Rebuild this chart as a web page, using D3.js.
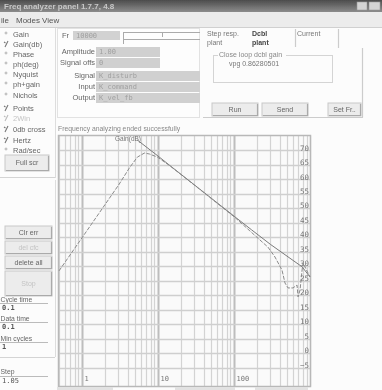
<!DOCTYPE html>
<html><head><meta charset="utf-8">
<script src="https://cdn.jsdelivr.net/npm/d3@7"></script>
<style>body{margin:0;background:#fff;overflow:hidden}svg{display:block}</style>
</head><body>
<svg id="c" width="382" height="390"></svg>
<script>
// ---- data ----
const freqA = [0.5, 0.92, 1.69, 3.1, 4.2, 5.36, 6.63, 7.7, 9.86, 14.2, 35.3, 102.6, 162, 219, 280, 346, 428, 469, 514, 598, 675, 697, 740, 787, 811, 1000];
const gainA = [28.4, 38.4, 48.4, 58.4, 63.9, 67.7, 69.1, 68.8, 67.7, 64.8, 56.6, 46.9, 42.2, 39.1, 36.6, 33.2, 28.7, 24.2, 22.5, 22.5, 23.5, 19.4, 21.8, 28.7, 31.1, 26.3];
const freqB = [5.36, 10, 14.2, 35.3, 102.6, 170, 300, 787, 1000];
const gainB = [73.6, 68.1, 64.9, 56.7, 47.1, 42.6, 37.6, 29.8, 26.3];
const yTickLabels = [-5, 0, 5, 10, 15, 20, 25, 30, 35, 40, 45, 50, 55, 60, 65, 70];
const xTickLabels = [1, 10, 100];
const xMajor = [1, 10, 100];
const curveLabel = "Gain(dB)";
const statusText = "Frequency analyzing ended successfully";
const leftOptions = ["Gain", "Gain(db)", "Phase", "ph(deg)", "Nyquist", "ph+gain", "Nichols", "Points", "2Win", "0db cross", "Hertz", "Rad/sec"];
const leftChecked = ["Gain(db)", "Points", "2Win", "0db cross", "Hertz"];
const leftDisabled = ["2Win"];
const fieldLabels = ["Amplitude", "Signal offs", "Signal", "Input", "Output"];
const fieldValues = ["1.00", "0", "K_disturb", "K_command", "K_vel_fb"];
const tabNames = [["Step resp.", "plant"], ["Dcbl", "plant"], ["Current", ""]];
const lowerFields = [["Cycle time", "0.1"], ["Data time", "0.1"], ["Min cycles", "1"]];

// ---- drawing ----
const root = d3.select("#c");
const W = 382, H = 390;
const SANS = "'Liberation Sans', Arial, sans-serif";
const MONO = "'DejaVu Sans Mono', monospace";
const TXT = "#666";

const defs = root.append("defs");
defs.append("filter").attr("id", "soft").append("feGaussianBlur").attr("stdDeviation", 0.3);
const svg = root.append("g").attr("filter", "url(#soft)");

svg.append("rect").attr("width", W).attr("height", H).attr("fill", "#fcfcfc");

// title bar
const g1 = defs.append("linearGradient").attr("id", "tb").attr("x1", 0).attr("y1", 0).attr("x2", 0).attr("y2", 1);
g1.append("stop").attr("offset", "0").attr("stop-color", "#4c4c4c");
g1.append("stop").attr("offset", "1").attr("stop-color", "#8c8c8c");
svg.append("rect").attr("x", 0).attr("y", 0).attr("width", W).attr("height", 12).attr("fill", "url(#tb)");
svg.append("text").attr("x", 4).attr("y", 9).attr("font-family", SANS).attr("font-size", 8).attr("font-weight", "bold")
  .attr("fill", "#c8c8c8").text("Freq analyzer panel 1.7.7, 4.8");
[[357, 10], [369, 11]].forEach(([bx, bw]) => {
  svg.append("rect").attr("x", bx).attr("y", 2).attr("width", bw).attr("height", 8).attr("fill", "#d4d4d4").attr("stroke", "#999").attr("stroke-width", 0.6);
});

// menu bar
svg.append("rect").attr("x", 0).attr("y", 12).attr("width", W).attr("height", 15).attr("fill", "#ececec");
[["ile", 1], ["Modes", 16], ["View", 42]].forEach(([t, mx]) => {
  svg.append("text").attr("x", mx).attr("y", 22.5).attr("font-family", SANS).attr("font-size", 8).attr("fill", "#555").text(t);
});
svg.append("line").attr("x1", 0).attr("x2", W).attr("y1", 27.5).attr("y2", 27.5).attr("stroke", "#d0d0d0");

// left panel
svg.append("line").attr("x1", 55.5).attr("x2", 55.5).attr("y1", 28).attr("y2", 178).attr("stroke", "#ddd");
svg.append("line").attr("x1", 0).attr("x2", 55).attr("y1", 177.5).attr("y2", 177.5).attr("stroke", "#d4d4d4");
const optY = [35, 45, 55, 65, 75, 85, 96, 109, 119, 130, 141, 151];
leftOptions.forEach((o, i) => {
  const yy = optY[i];
  const dis = leftDisabled.includes(o);
  if (leftChecked.includes(o)) {
    svg.append("path").attr("d", `M4,${yy - 3} l1.5,1 M5,${yy + 2} l3,-6`).attr("stroke", dis ? "#bbb" : "#777").attr("fill", "none").attr("stroke-width", 1.1);
  } else {
    svg.append("circle").attr("cx", 6).attr("cy", yy - 2).attr("r", 1).attr("fill", "none").attr("stroke", "#999").attr("stroke-width", 0.7);
  }
  svg.append("text").attr("x", 13).attr("y", yy).attr("dy", "0.33em").attr("font-family", SANS).attr("font-size", 7.5)
    .attr("fill", dis ? "#c4c4c4" : TXT).text(o);
});

function button(x0, y0, w, h, label, disabled) {
  svg.append("rect").attr("x", x0).attr("y", y0).attr("width", w).attr("height", h).attr("fill", "#ececec").attr("stroke", "#c8c8c8");
  svg.append("path").attr("d", `M${x0 + w - 0.5},${y0 + 1}V${y0 + h - 0.5}H${x0 + 1}`).attr("stroke", "#aaa").attr("fill", "none").attr("stroke-width", 1.2);
  svg.append("text").attr("x", x0 + w / 2).attr("y", y0 + h / 2).attr("dy", "0.33em").attr("text-anchor", "middle")
    .attr("font-family", SANS).attr("font-size", 7).attr("fill", disabled ? "#c4c4c4" : TXT).text(label);
}
button(5, 155, 44, 16, "Full scr", false);
button(5, 226, 47, 13, "Clr err", false);
button(5, 241, 47, 13, "del cfc", true);
button(5, 256, 47, 13, "delete all", false);
button(5, 271, 47, 25, "Stop", true);

svg.append("line").attr("x1", 55.5).attr("x2", 55.5).attr("y1", 180).attr("y2", 357).attr("stroke", "#ddd");
const lfY = [300, 319, 339];
lowerFields.forEach(([lab, val], i) => {
  const yy = lfY[i];
  svg.append("text").attr("x", 0.5).attr("y", yy).attr("dy", "0.33em").attr("font-family", SANS).attr("font-size", 6.8).attr("fill", TXT).text(lab);
  svg.append("line").attr("x1", 0).attr("x2", 48).attr("y1", yy + 3.5).attr("y2", yy + 3.5).attr("stroke", "#bbb");
  svg.append("text").attr("x", 2).attr("y", yy + 8).attr("dy", "0.33em").attr("font-family", MONO).attr("font-weight", "bold").attr("font-size", 7).attr("fill", "#555").text(val);
});
svg.append("line").attr("x1", 0).attr("x2", 55).attr("y1", 357.5).attr("y2", 357.5).attr("stroke", "#d4d4d4");
svg.append("text").attr("x", 0.5).attr("y", 372).attr("dy", "0.33em").attr("font-family", SANS).attr("font-size", 6.8).attr("fill", TXT).text("Step");
svg.append("line").attr("x1", 0).attr("x2", 48).attr("y1", 376.5).attr("y2", 376.5).attr("stroke", "#bbb");
svg.append("text").attr("x", 2).attr("y", 381).attr("dy", "0.33em").attr("font-family", MONO).attr("font-size", 7).attr("fill", "#555").text("1.05");

// top panel
svg.append("rect").attr("x", 57.5).attr("y", 28.5).attr("width", 142).attr("height", 89).attr("fill", "#fdfdfd").attr("stroke", "#e2e2e2");
svg.append("text").attr("x", 62).attr("y", 35.5).attr("dy", "0.33em").attr("font-family", SANS).attr("font-size", 7.5).attr("fill", TXT).text("Fr");
svg.append("rect").attr("x", 73).attr("y", 31).attr("width", 47).attr("height", 9).attr("fill", "#d2d2d2");
svg.append("text").attr("x", 76).attr("y", 35.5).attr("dy", "0.33em").attr("font-family", MONO).attr("font-size", 7).attr("fill", "#a0a0a0").text("10000");
svg.append("path").attr("d", "M124,32.5H200 M124,39.5H200 M123.5,32V44 M162.5,32V37").attr("stroke", "#aaa").attr("fill", "none");
const fY = [52, 63, 76, 87, 98];
const fW = [64, 64, 104, 104, 104];
fieldLabels.forEach((l, i) => {
  const yy = fY[i];
  svg.append("text").attr("x", 95).attr("y", yy).attr("dy", "0.33em").attr("text-anchor", "end").attr("font-family", SANS).attr("font-size", 7.5).attr("fill", TXT).text(l);
  svg.append("rect").attr("x", 96).attr("y", yy - 5).attr("width", fW[i]).attr("height", 10).attr("fill", "#d0d0d0");
  svg.append("text").attr("x", 99).attr("y", yy).attr("dy", "0.33em").attr("font-family", MONO).attr("font-size", 7).attr("fill", "#a0a0a0").text(fieldValues[i]);
});

// right tab panel
const tabX = [207, 252, 297];
tabNames.forEach((t, i) => {
  t.forEach((s, k) => {
    svg.append("text").attr("x", tabX[i]).attr("y", 34 + k * 9).attr("dy", "0.33em").attr("font-family", SANS).attr("font-size", 7)
      .attr("font-weight", i === 1 ? "bold" : "normal").attr("fill", i === 1 ? "#444" : "#777").text(s);
  });
});
svg.append("path").attr("d", "M295.5,29V47 M338.5,29V48 M362.5,48V117.5 M203,117.5H363").attr("stroke", "#ccc").attr("stroke-width", 1.2).attr("fill", "none");
svg.append("rect").attr("x", 213.5).attr("y", 55.5).attr("width", 119).attr("height", 27).attr("fill", "none").attr("stroke", "#d4d4d4");
svg.append("rect").attr("x", 218).attr("y", 51).attr("width", 68).attr("height", 8).attr("fill", "#fcfcfc");
svg.append("text").attr("x", 219).attr("y", 54.5).attr("dy", "0.33em").attr("font-family", SANS).attr("font-size", 7).attr("fill", "#888").text("Close loop dcbl gain");
svg.append("text").attr("x", 229).attr("y", 63.5).attr("dy", "0.33em").attr("font-family", SANS).attr("font-size", 7).attr("fill", "#777").text("vpg 0.86280501");
button(212, 103, 46, 13, "Run", false);
button(262, 103, 46, 13, "Send", false);
button(328, 103, 33, 13, "Set Fr..", false);

// status
svg.append("text").attr("x", 58).attr("y", 130.5).attr("font-family", SANS).attr("font-size", 6.8).attr("fill", "#888").text(statusText);

// ---- chart ----
const L = 59, R = 310, T = 136, B = 386;
const x = d3.scaleLog().domain([0.5, 1000]).range([L, R]);
const y = d3.scaleLinear().domain([-10, 75]).range([382, T]);
svg.append("rect").attr("x", L).attr("y", T).attr("width", R - L).attr("height", B - T).attr("fill", "#fafafa");
const grid = svg.append("g");
grid.selectAll("line.v").data(x.ticks()).join("line")
  .attr("x1", d => Math.round(x(d)) + 0.5).attr("x2", d => Math.round(x(d)) + 0.5).attr("y1", T).attr("y2", B)
  .attr("stroke", d => xMajor.includes(d) ? "#bdbdbd" : "#d3d3d3").attr("stroke-width", d => xMajor.includes(d) ? 2 : 1.2);
grid.selectAll("line.h").data(yTickLabels).join("line")
  .attr("x1", L).attr("x2", R).attr("y1", d => Math.round(y(d)) + 0.5).attr("y2", d => Math.round(y(d)) + 0.5)
  .attr("stroke", "#cfcfcf").attr("stroke-width", 1.4);
svg.append("rect").attr("x", L - 0.5).attr("y", T - 0.5).attr("width", R - L + 1).attr("height", B - T + 1).attr("fill", "none").attr("stroke", "#b8b8b8").attr("stroke-width", 1.5);

const yAxis = d3.axisRight(y).tickValues(yTickLabels).tickSize(0).tickPadding(0);
const ya = svg.append("g").attr("transform", `translate(${R - 10},0)`).call(yAxis);
ya.select(".domain").remove();
ya.selectAll("text").attr("font-family", MONO).attr("font-size", 7.5).attr("fill", "#777")
  .attr("text-anchor", "end").attr("x", 9).attr("dy", "-0.05em");

const xAxis = d3.axisBottom(x).tickValues(xTickLabels).tickFormat(d3.format("d")).tickSize(0).tickPadding(0);
const xa = svg.append("g").attr("transform", `translate(0,${B - 9})`).call(xAxis);
xa.select(".domain").remove();
xa.selectAll("text").attr("font-family", MONO).attr("font-size", 7).attr("fill", "#777").attr("text-anchor", "start").attr("dx", "2").attr("dy", "0.5em");

const line = d3.line().x(d => x(d[0])).y(d => y(d[1]));
svg.append("path").datum(freqB.map((f, i) => [f, gainB[i]])).attr("d", line)
  .attr("fill", "none").attr("stroke", "#7a7a7a").attr("stroke-width", 1);
svg.append("path").datum(freqA.map((f, i) => [f, gainA[i]])).attr("d", line)
  .attr("fill", "none").attr("stroke", "#8a8a8a").attr("stroke-width", 1).attr("stroke-dasharray", "4,1.5");
svg.append("text").attr("x", 115).attr("y", 141).attr("font-family", SANS).attr("font-size", 6.5).attr("fill", "#777").text(curveLabel);

// bottom strip
[[57, 56], [175, 60], [255, 53]].forEach(([bx, bw]) => {
  svg.append("rect").attr("x", bx).attr("y", 387).attr("width", bw).attr("height", 3).attr("fill", "#e2e2e2");
});
</script>
</body></html>
